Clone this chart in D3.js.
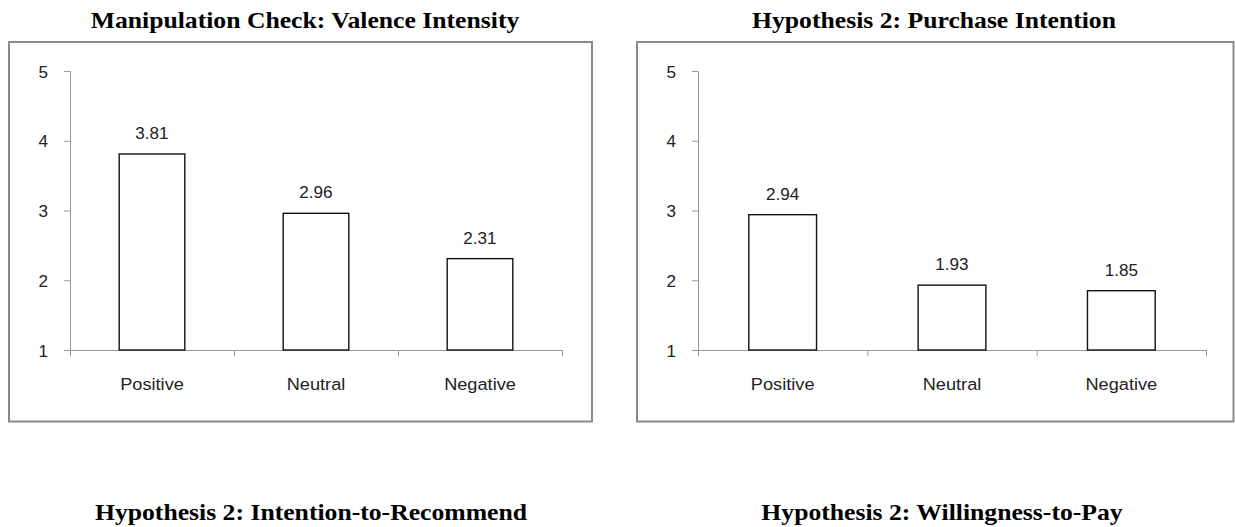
<!DOCTYPE html>
<html>
<head>
<meta charset="utf-8">
<script src="https://cdn.jsdelivr.net/npm/d3@7"></script>
<style>
  html, body { margin: 0; padding: 0; background: #fff; }
  svg { display: block; }
</style>
</head>
<body>
<svg id="chart" width="1235" height="527"></svg>
<script>
// Condition groups shared by every panel
const categories = ["Positive", "Neutral", "Negative"];

// Mean scores per condition
const valenceIntensity = [3.81, 2.96, 2.31];
const purchaseIntention = [2.94, 1.93, 1.85];

// Likert scale ticks
const yTicks = [1, 2, 3, 4, 5];

// Panel headings
const topTitles = ["Manipulation Check: Valence Intensity", "Hypothesis 2: Purchase Intention"];
const bottomTitles = ["Hypothesis 2: Intention-to-Recommend", "Hypothesis 2: Willingness-to-Pay"];

const svg = d3.select("#chart");
const SX = 1.07; // slight horizontal stretch applied to all lettering
const sansFont = "'Liberation Sans', Arial, sans-serif";
const serifFont = "'Liberation Serif', 'Times New Roman', serif";

function stretchedText(g, x, y, str, opts) {
  return g.append("text")
    .attr("transform", `translate(${x},${y}) scale(${SX},1)`)
    .attr("text-anchor", opts.anchor || "middle")
    .attr("font-family", opts.family)
    .attr("font-size", opts.size)
    .attr("font-weight", opts.weight || "normal")
    .attr("fill", opts.fill || "#222")
    .text(str);
}

const panels = [
  { values: valenceIntensity, title: topTitles[0], titleX: 305, frame: [9, 42, 592, 421.5], x0: 70, x1: 562 },
  { values: purchaseIntention, title: topTitles[1], titleX: 934, frame: [637, 42, 1233.5, 421.5], x0: 698, x1: 1206 }
];

panels.forEach(p => {
  const g = svg.append("g");

  // heading
  stretchedText(g, p.titleX, 28, p.title, { family: serifFont, size: 24, weight: "bold", fill: "#000" });

  // chart frame
  g.append("rect")
    .attr("x", p.frame[0]).attr("y", p.frame[1])
    .attr("width", p.frame[2] - p.frame[0]).attr("height", p.frame[3] - p.frame[1])
    .attr("fill", "#fff").attr("stroke", "#8a8a8a").attr("stroke-width", 2);

  const y = d3.scaleLinear().domain([1, 5]).range([350, 71]);
  const x = d3.scaleBand().domain(categories).range([p.x0, p.x1])
    .paddingInner(0.6).paddingOuter(0.3);

  // y axis
  const yAxis = g.append("g")
    .attr("transform", `translate(${p.x0},0)`)
    .call(d3.axisLeft(y).tickValues(yTicks).tickSize(6).tickSizeOuter(0).tickFormat(d3.format("d")));
  yAxis.select(".domain").attr("stroke", "#999").attr("stroke-width", 1);
  yAxis.selectAll(".tick line").attr("stroke", "#999");
  yAxis.selectAll(".tick text")
    .attr("x", null).attr("dy", null)
    .attr("transform", `translate(-22,6) scale(${SX},1)`)
    .attr("text-anchor", "end")
    .attr("font-family", sansFont).attr("font-size", 16).attr("fill", "#222");

  // x axis line with ticks at category boundaries
  const step = x.step();
  const bounds = d3.range(categories.length + 1).map(i => p.x0 + i * step);
  g.append("line")
    .attr("x1", p.x0).attr("x2", p.x1).attr("y1", y(1) + 0.5).attr("y2", y(1) + 0.5)
    .attr("stroke", "#999");
  g.selectAll(".xtick").data(bounds).join("line")
    .attr("x1", d => d + 0.5).attr("x2", d => d + 0.5)
    .attr("y1", y(1)).attr("y2", y(1) + 6)
    .attr("stroke", "#999");

  // bars
  g.selectAll(".bar").data(p.values).join("rect")
    .attr("x", (d, i) => x(categories[i]))
    .attr("y", d => y(d))
    .attr("width", x.bandwidth())
    .attr("height", d => y(1) - y(d))
    .attr("fill", "#fff").attr("stroke", "#111").attr("stroke-width", 1.4);

  // value labels
  p.values.forEach((v, i) => {
    stretchedText(g, x(categories[i]) + x.bandwidth() / 2, y(v) - 15, v.toFixed(2),
      { family: sansFont, size: 16, fill: "#222" });
  });

  // category labels
  categories.forEach(c => {
    stretchedText(g, x(c) + x.bandwidth() / 2, 390, c, { family: sansFont, size: 17, fill: "#222" });
  });
});

// headings of the following row of panels
stretchedText(svg, 311, 520, bottomTitles[0], { family: serifFont, size: 24, weight: "bold", fill: "#000" });
stretchedText(svg, 942, 520, bottomTitles[1], { family: serifFont, size: 24, weight: "bold", fill: "#000" });
</script>
</body>
</html>
